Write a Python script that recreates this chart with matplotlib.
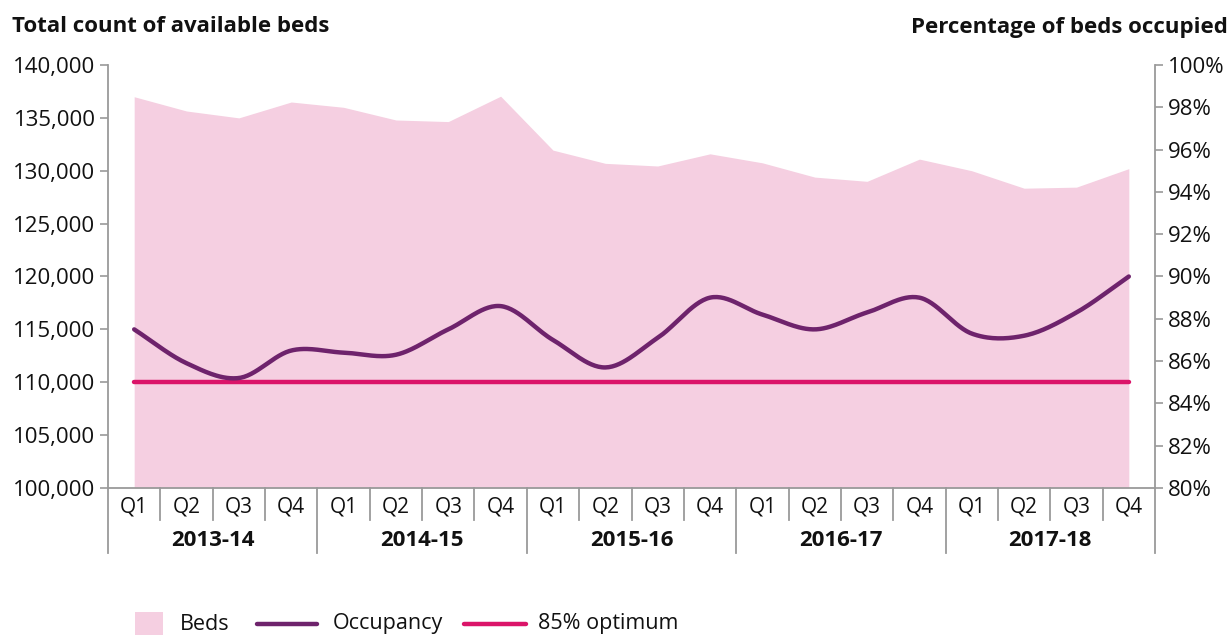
import numpy as np
import matplotlib
matplotlib.use("Agg")
import matplotlib.pyplot as plt
from matplotlib.patches import Rectangle
from matplotlib.lines import Line2D
import matplotlib.transforms as mtransforms

plt.rcParams['font.family'] = ['Open Sans', 'DejaVu Sans']

# ---- data ----
years = ["2013-14", "2014-15", "2015-16", "2016-17", "2017-18"]
quarters = ["Q1", "Q2", "Q3", "Q4"]
beds = [137000, 135650, 135000, 136500,
        136000, 134800, 134650, 137050,
        131950, 130700, 130450, 131600,
        130750, 129400, 129000, 131100,
        130000, 128350, 128450, 130200]
occupancy = [87.5, 85.9, 85.2, 86.5,
             86.4, 86.3, 87.5, 88.6,
             87.0, 85.7, 87.1, 89.0,
             88.2, 87.5, 88.3, 89.0,
             87.3, 87.2, 88.3, 90.0]
optimum = 85.0
left_ticks = [100000, 105000, 110000, 115000, 120000, 125000, 130000, 135000, 140000]
right_ticks = [80, 82, 84, 86, 88, 90, 92, 94, 96, 98, 100]
legend_labels = ["Beds", "Occupancy", "85% optimum"]

# ---- colours ----
c_fill = "#F5CFE1"
c_occ = "#6E236C"
c_opt = "#DB1469"
c_axis = "#9A9A9A"
c_text = "#111111"

W, H = 1231, 635
fig = plt.figure(figsize=(W / 100, H / 100), dpi=100)
L, R, T, B = 108, 1155, 65, 488
ax = fig.add_axes([L / W, 1 - B / H, (R - L) / W, (B - T) / H])
ax2 = ax.twinx()

n = len(beds)
x = np.arange(n)

ax.fill_between(x, beds, left_ticks[0], color=c_fill, linewidth=0, zorder=1)
ax.set_xlim(-0.5, n - 0.5)
ax.set_ylim(left_ticks[0], left_ticks[-1])
ax2.set_ylim(right_ticks[0], right_ticks[-1])


def catmull_rom(xs, ys, steps=30):
    xs = np.asarray(xs, float)
    ys = np.asarray(ys, float)
    px = np.concatenate([[2 * xs[0] - xs[1]], xs, [2 * xs[-1] - xs[-2]]])
    py = np.concatenate([[2 * ys[0] - ys[1]], ys, [2 * ys[-1] - ys[-2]]])
    outx, outy = [], []
    for i in range(1, len(px) - 2):
        t = np.linspace(0, 1, steps, endpoint=False)
        for arr, out in ((px, outx), (py, outy)):
            p0, p1, p2, p3 = arr[i - 1], arr[i], arr[i + 1], arr[i + 2]
            out.extend(0.5 * ((2 * p1) + (-p0 + p2) * t +
                              (2 * p0 - 5 * p1 + 4 * p2 - p3) * t ** 2 +
                              (-p0 + 3 * p1 - 3 * p2 + p3) * t ** 3))
    outx.append(xs[-1])
    outy.append(ys[-1])
    return np.array(outx), np.array(outy)


LW = 3.2
sx, sy = catmull_rom(x, occupancy)
ax2.plot([x[0], x[-1]], [optimum, optimum], color=c_opt, lw=LW,
         solid_capstyle='round', zorder=3)
ax2.plot(sx, sy, color=c_occ, lw=LW, solid_capstyle='round', zorder=4)

# spines & ticks
for a in (ax, ax2):
    for s in a.spines.values():
        s.set_visible(False)

FS = 16
ax.set_yticks(left_ticks)
ax.set_yticklabels([f"{v:,}" for v in left_ticks])
ax.tick_params(axis='y', direction='out', length=6, width=1.2, color=c_axis,
               labelsize=FS, labelcolor=c_text, pad=3)
ax2.set_yticks(right_ticks)
ax2.set_yticklabels([f"{v}%" for v in right_ticks])
ax2.tick_params(axis='y', direction='out', length=6, width=1.2, color=c_axis,
                labelsize=FS, labelcolor=c_text, pad=3)

ax.set_xticks(x)
ax.set_xticklabels([quarters[i % 4] for i in range(n)])
ax.tick_params(axis='x', length=0, labelsize=15, labelcolor=c_text, pad=6)

trans = mtransforms.blended_transform_factory(ax.transData, ax.transAxes)
ext_long = -(553 - B) / (B - T)
ext_short = -(520 - B) / (B - T)
lw_ax = 1.3
ax.plot([0, 0], [ext_long, 1], transform=ax.transAxes, color=c_axis, lw=lw_ax, clip_on=False, zorder=5)
ax.plot([1, 1], [ext_long, 1], transform=ax.transAxes, color=c_axis, lw=lw_ax, clip_on=False, zorder=5)
ax.plot([0, 1], [0, 0], transform=ax.transAxes, color=c_axis, lw=lw_ax, clip_on=False, zorder=5)
for i in range(1, n):
    bx = i - 0.5
    y0 = ext_long if i % 4 == 0 else ext_short
    ax.plot([bx, bx], [y0, 0], transform=trans, color=c_axis, lw=lw_ax, clip_on=False)

for k, yr in enumerate(years):
    ax.text(k * 4 + 1.5, -(540 - B) / (B - T), yr, transform=trans, ha='center',
            va='center', fontsize=FS, fontweight='bold', color=c_text)

fig.text(12 / W, 1 - 27 / H, "Total count of available beds", ha='left', va='center',
         fontsize=16, fontweight='bold', color=c_text)
fig.text(1228 / W, 1 - 27 / H, "Percentage of beds occupied", ha='right', va='center',
         fontsize=16, fontweight='bold', color=c_text)

# ---- manual legend (pixel layout) ----
ly = 1 - 624 / H
fig.patches.append(Rectangle((135 / W, 1 - 637 / H), 28 / W, 25 / H,
                             transform=fig.transFigure, facecolor=c_fill,
                             edgecolor='none'))
fig.text(180 / W, ly, legend_labels[0], ha='left', va='center', fontsize=15.5, color=c_text)
fig.lines.append(Line2D([257 / W, 317 / W], [ly, ly], transform=fig.transFigure,
                        color=c_occ, lw=LW, solid_capstyle='round'))
fig.text(333 / W, ly, legend_labels[1], ha='left', va='center', fontsize=15.5, color=c_text)
fig.lines.append(Line2D([464 / W, 526 / W], [ly, ly], transform=fig.transFigure,
                        color=c_opt, lw=LW, solid_capstyle='round'))
fig.text(538 / W, ly, legend_labels[2], ha='left', va='center', fontsize=15.5, color=c_text)

fig.savefig("out.png", dpi=100)
